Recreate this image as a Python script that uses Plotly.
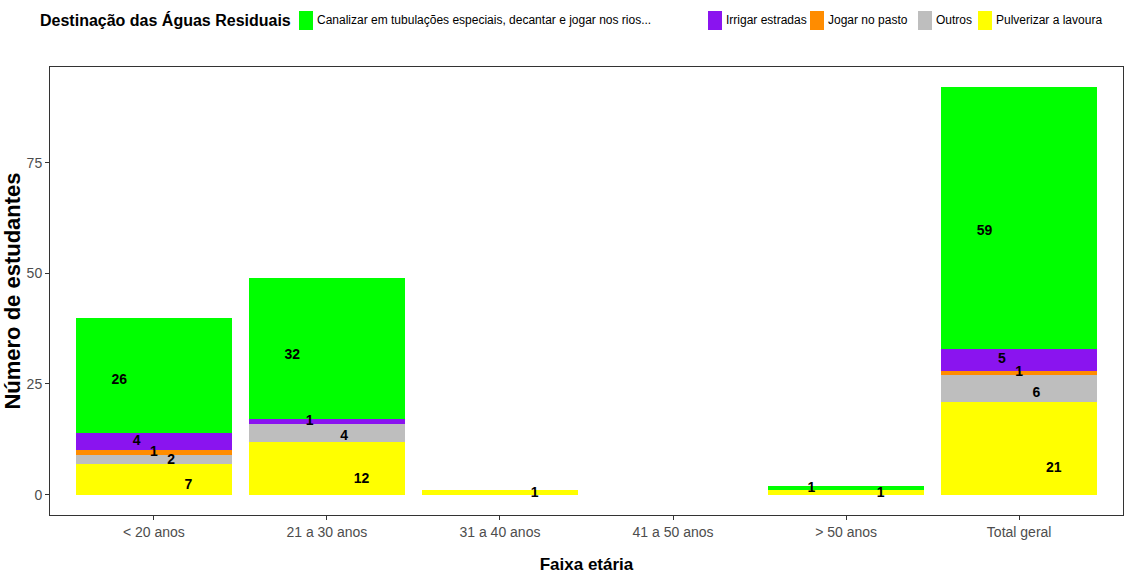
import plotly.graph_objects as go

faixas = ["< 20 anos", "21 a 30 anos", "31 a 40 anos", "41 a 50 anos", "> 50 anos", "Total geral"]

# bottom to top of each stack
destinos = ["Pulverizar a lavoura", "Outros", "Jogar no pasto", "Irrigar estradas",
            "Canalizar em tubulações especiais, decantar e jogar nos rios..."]
pulverizar = [7, 12, 1, 0, 1, 21]
outros = [2, 4, 0, 0, 0, 6]
pasto = [1, 0, 0, 0, 0, 1]
irrigar = [4, 1, 0, 0, 0, 5]
canalizar = [26, 32, 0, 0, 1, 59]

series = [pulverizar, outros, pasto, irrigar, canalizar]
cores = ["#ffff00", "#bebebe", "#ff8c00", "#8a14ef", "#00ff00"]
# label placement (style only): horizontal shift and fraction of segment height
label_dx = [0.2, 0.1, 0.0, -0.1, -0.2]
label_frac = [0.28, 0.3, 0.5, 0.5, 0.45]
# legend key left edges in pixels (same order as destinos)
legend_px = [978, 918, 810, 708, 299]

fonte = "Liberation Sans, Arial, sans-serif"
xs = list(range(len(faixas)))
W, H = 1126, 574
ML, MR, MT, MB = 50, 3, 67, 59
pw = W - ML - MR
ph = H - MT - MB

fig = go.Figure()

for nome, vals, cor in zip(destinos, series, cores):
    fig.add_trace(go.Bar(x=xs, y=vals, name=nome, width=0.9,
                         marker=dict(color=cor, line=dict(width=0)),
                         hoverinfo="skip", showlegend=False))

# value labels
base = [0] * len(faixas)
lx, ly, lt = [], [], []
for vals, dx, fr in zip(series, label_dx, label_frac):
    for i, v in enumerate(vals):
        if v > 0:
            lx.append(xs[i] + dx)
            ly.append(base[i] + v * fr)
            lt.append(str(v))
        base[i] += v

fig.add_trace(go.Scatter(x=lx, y=ly, text=lt, mode="text", showlegend=False,
                         textfont=dict(family=fonte, size=14, color="black", weight="bold"),
                         hoverinfo="skip"))

# legend drawn by hand so it fits on one line
def px_x(p):
    return (p - ML) / pw

def px_y(p):
    return (H - MB - p) / ph

fig.add_annotation(x=px_x(38), y=px_y(20), xref="paper", yref="paper",
                   xanchor="left", yanchor="middle", showarrow=False,
                   text="Destinação das Águas Residuais",
                   font=dict(family=fonte, size=16, color="black", weight="bold"))
for nome, cor, p in zip(destinos, cores, legend_px):
    fig.add_shape(type="rect", xref="paper", yref="paper",
                  x0=px_x(p), x1=px_x(p + 14), y0=px_y(30), y1=px_y(11),
                  fillcolor=cor, line=dict(width=0), layer="above")
    fig.add_annotation(x=px_x(p + 16), y=px_y(20), xref="paper", yref="paper",
                       xanchor="left", yanchor="middle", showarrow=False,
                       text=nome, font=dict(family=fonte, size=12, color="black"))

fig.update_layout(
    width=W, height=H,
    barmode="stack",
    plot_bgcolor="white", paper_bgcolor="white",
    margin=dict(l=ML, r=MR, t=MT, b=MB),
    font=dict(family=fonte, color="black"),
    showlegend=False,
    xaxis=dict(range=[-0.6, 5.6], tickvals=xs, ticktext=faixas,
               showgrid=False, zeroline=False, showline=True, mirror=True,
               linecolor="#333333", linewidth=1,
               ticks="outside", ticklen=4, tickcolor="#333333",
               tickfont=dict(family=fonte, size=14, color="#4d4d4d"),
               title=dict(text="Faixa etária", standoff=19,
                          font=dict(family=fonte, size=17, color="black", weight="bold"))),
    yaxis=dict(range=[-4.6, 96.6], tickvals=[0, 25, 50, 75],
               showgrid=False, zeroline=False, showline=True, mirror=True,
               linecolor="#333333", linewidth=1,
               ticks="outside", ticklen=4, tickcolor="#333333",
               tickfont=dict(family=fonte, size=14, color="#4d4d4d"),
               title=dict(text="Número de estudantes", standoff=0,
                          font=dict(family=fonte, size=22, color="black", weight="bold"))),
)

fig.write_html("out.html", config={"displayModeBar": False},
               post_script="document.body.style.margin='0';")
